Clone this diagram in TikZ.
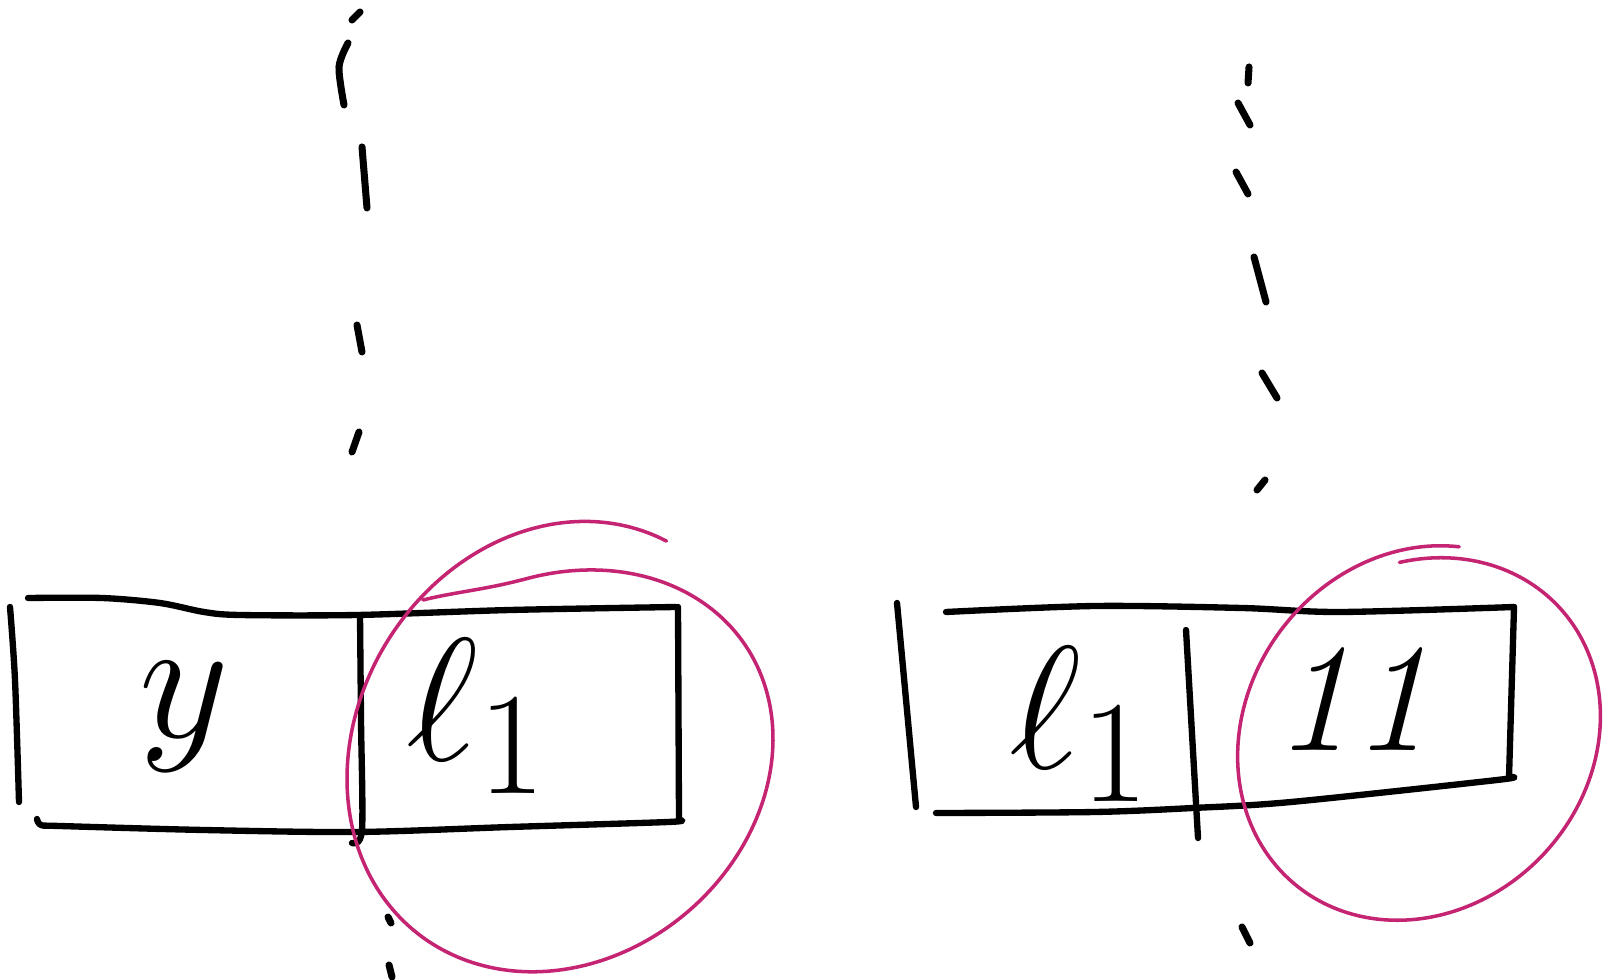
\documentclass[tikz,border=0pt]{standalone}
\usetikzlibrary{calc}
\definecolor{inkmag}{RGB}{196,36,114}
\tikzset{
  ink/.style={draw=black, line width=1.8pt, line cap=round, line join=round},
  dashink/.style={draw=black, line width=2.0pt, line cap=round},
  loop/.style={draw=inkmag, line width=1.0pt, line cap=round, line join=round},
  hand/.style={inner sep=0pt, font=\fontsize{24.88}{30}\selectfont, scale=2},
  handnum/.style={inner sep=0pt, font=\fontsize{44}{52}\selectfont\itshape}
}
\begin{document}
\begin{tikzpicture}[x=0.01cm, y=-0.01cm]
\useasboundingbox (0,0) rectangle (1619,980);
\fill[white] (0,0) rectangle (1619,980);

% ---------- left dashed line ----------
\draw[dashink] (352,20) -- (360,12);
\draw[dashink] plot[smooth] coordinates {(348,43) (339,67) (344,105)};
\draw[dashink] (362,147) -- (367,208);
\draw[dashink] (357,325) -- (362,352);
\draw[dashink] (359,432) -- (352,452);
\draw[dashink] (388,917) -- (391,923);
\draw[dashink] (389,965) -- (392,977);

% ---------- right dashed line ----------
\draw[dashink] (1249,67) -- (1248,83);
\draw[dashink] (1238,103) -- (1250,125);
\draw[dashink] (1236,172) -- (1248,194);
\draw[dashink] (1254,257) -- (1266,302);
\draw[dashink] (1262,373) -- (1277,398);
\draw[dashink] (1265,480) -- (1257,490);
\draw[dashink] (1242,927) -- (1250,943);

% ---------- left box ----------
\coordinate (LTR) at (678,607);
\coordinate (LBR) at (679,820);
\draw[ink] plot[smooth, tension=0.5] coordinates {(28,598) (102,598) (160,603) (204,612) (240,615) (357,615) (510,610) (676,607)};
\draw[ink] (LTR) -- (LBR);
\draw[ink] plot[smooth, tension=0.5] coordinates {(679,820) (668,822) (510,827) (357,832) (204,830) (60,826) (41,825) (37,819)};
\draw[ink] plot[smooth] coordinates {(10,607) (15,680) (19,802)};
\draw[ink] plot[smooth] coordinates {(360,615) (361,720) (362,830) (352,843)};

\node[hand, anchor=base] (y) at (184,738) {$y$};
\node[hand, anchor=base] (l1a) at (478,760) {$\ell_1$};

% ---------- right box ----------
\coordinate (RTR) at (1514,607);
\coordinate (RBR) at (1509,777);
\draw[ink] (897,603) -- (916,807);
\draw[ink] plot[smooth, tension=0.5] coordinates {(946,612) (1095,606) (1242,608) (1340,612) (1514,607)};
\draw[ink] (RTR) -- (RBR);
\draw[ink] plot[smooth, tension=0.5] coordinates {(1509,777) (1497,780) (1291,802) (1193,808) (1095,812) (936,813)};
\draw[ink] (1186,630) -- (1198,838);

\node[hand, anchor=base] (l1b) at (1081,768) {$\ell_1$};
\node[handnum, anchor=base] (eleven) at (1352,750) {11};

% ---------- magenta loops ----------
\draw[loop] (423,600) .. controls (455,592) and (483,590) .. (523,579.6)
  -- plot[domain=-100:300, samples=160, smooth]
     ({560+213*cos(\x)}, {758.75+(186.75+0.136*(\x+90))*sin(\x)-20*cos(\x)});
\draw[loop] plot[domain=-100:279, samples=160, smooth]
     ({1419+181*cos(\x)-12*sin(\x)}, {736+(178+0.0333*(\x+90))*sin(\x)-8*cos(\x)});
\end{tikzpicture}
\end{document}
